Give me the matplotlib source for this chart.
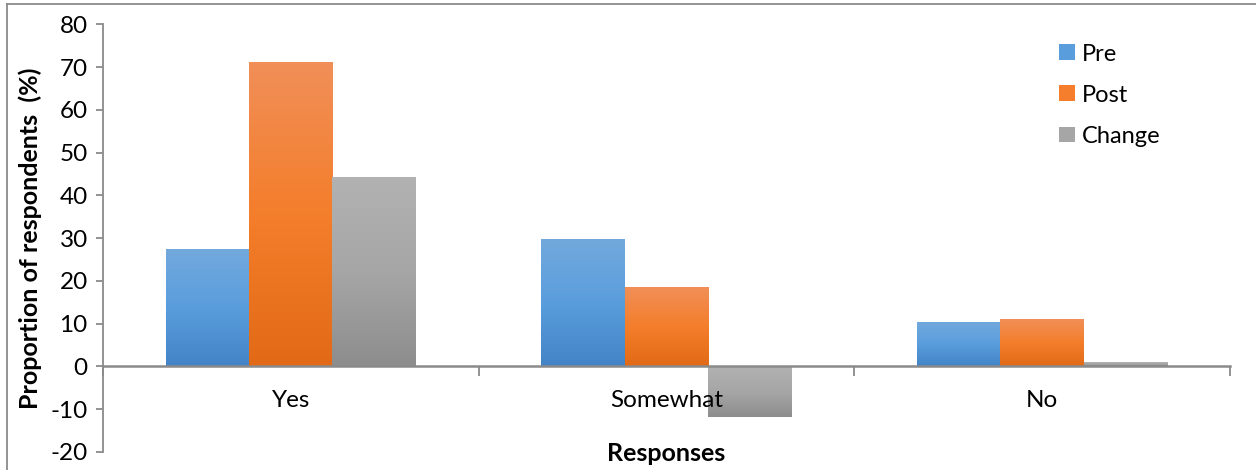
import numpy as np
import matplotlib
matplotlib.use("Agg")
import matplotlib.pyplot as plt
from matplotlib.colors import LinearSegmentedColormap
from matplotlib.lines import Line2D
from matplotlib.patches import Patch

plt.rcParams['font.family'] = ['Lato', 'DejaVu Sans']
plt.rcParams['axes.unicode_minus'] = False

categories = ["Yes", "Somewhat", "No"]
series_names = ["Pre", "Post", "Change"]
pre = [27.2, 29.7, 10.1]
post = [71.0, 18.3, 10.8]
change = [44.0, -11.7, 0.9]

# light top -> mid -> darker bottom, like the office-style fill
gradients = {
    "Pre": ["#72A9DD", "#5A9DDC", "#4284C6"],
    "Post": ["#F18F58", "#F47E2B", "#E26A16"],
    "Change": ["#B2B2B2", "#A6A6A6", "#8D8D8D"],
}
axis_grey = "#8A8A8A"

fig = plt.figure(figsize=(12.56, 4.70), dpi=100)
ax = fig.add_axes([0.082, 0.0383, 0.897, 0.9097])

width = 0.222
x = np.arange(len(categories))
for i, (name, vals) in enumerate(zip(series_names, [pre, post, change])):
    cmap = LinearSegmentedColormap.from_list(name, gradients[name])
    bars = ax.bar(x + (i - 1) * width, vals, width, color=gradients[name][1],
                  label=name, zorder=1)
    grad = np.linspace(0, 1, 256).reshape(-1, 1)
    for b in bars:
        x0, y0 = b.get_x(), b.get_y()
        x1, y1 = x0 + b.get_width(), y0 + b.get_height()
        lo, hi = min(y0, y1), max(y0, y1)
        ax.imshow(grad, cmap=cmap, extent=[x0, x1, lo, hi], origin='upper',
                  aspect='auto', zorder=1, interpolation='bilinear')
        b.set_visible(False)

ax.set_xlim(-0.5, 2.5)
ax.set_ylim(-20, 80)
ax.set_yticks(np.arange(-20, 81, 10))

for side in ["top", "right"]:
    ax.spines[side].set_visible(False)
ax.spines["left"].set_color(axis_grey)
ax.spines["left"].set_linewidth(1.3)
ax.spines["bottom"].set_position(("data", 0))
ax.spines["bottom"].set_color(axis_grey)
ax.spines["bottom"].set_linewidth(1.8)
ax.spines["bottom"].set_zorder(4)
ax.xaxis.set_zorder(5)

ax.set_xticks(x)
ax.set_xticklabels(categories)
ax.set_xticks([-0.5, 0.5, 1.5, 2.5], minor=True)
ax.tick_params(axis="x", which="major", length=0, pad=17, labelsize=17.5)
ax.tick_params(axis="x", which="minor", length=7, width=1.3, color=axis_grey,
               direction="out")
ax.tick_params(axis="y", length=5, width=1.3, color=axis_grey, labelsize=17.5,
               pad=6)

ax.set_ylabel("Proportion of respondents  (%)", fontsize=18, fontweight="bold",
              labelpad=6)
fig.text(0.530, 0.036, "Responses", ha="center", va="center", fontsize=18,
         fontweight="bold")

handles = [Patch(facecolor=gradients[n][1], label=n) for n in series_names]
ax.legend(handles=handles, loc="upper left", bbox_to_anchor=(0.830, 1.005),
          frameon=False, fontsize=17, handlelength=0.65, handleheight=0.65,
          handletextpad=0.3, labelspacing=0.85)

# outer frame edges
fig.add_artist(Line2D([0.0056, 0.0056], [0, 0.991], transform=fig.transFigure,
                      color=axis_grey, lw=1.3))
fig.add_artist(Line2D([0.0056, 1], [0.991, 0.991], transform=fig.transFigure,
                      color=axis_grey, lw=1.3))

fig.savefig("out.png", dpi=100)
